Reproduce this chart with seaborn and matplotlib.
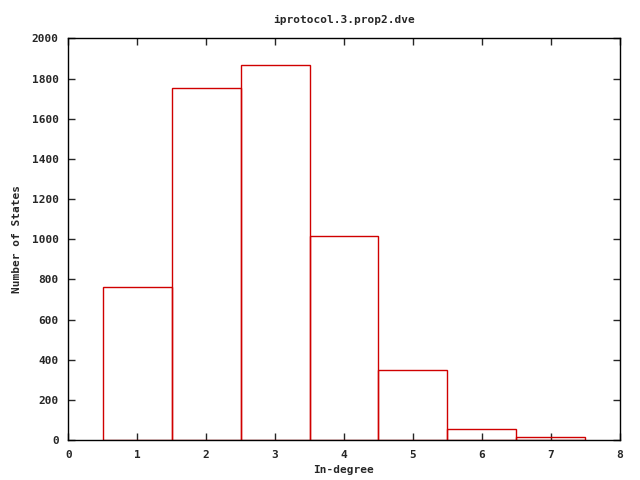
import matplotlib
matplotlib.use("Agg")
import matplotlib.pyplot as plt
import seaborn as sns

# in-degree histogram values
degrees = [1, 2, 3, 4, 5, 6, 7]
states = [761, 1755, 1866, 1015, 348, 54, 14]

sns.set_style("ticks")
plt.rcParams['font.family'] = ['DejaVu Sans Mono']
plt.rcParams['font.weight'] = 'bold'
plt.rcParams['font.size'] = 8

fig = plt.figure(figsize=(6.4, 4.8), dpi=100)
ax = fig.add_axes([0.107, 0.083, 0.861, 0.837])

sns.histplot(x=degrees, weights=states, discrete=True, fill=False,
             color="#d00000", linewidth=1.0, ax=ax)

ax.set_xlim(0, 8)
ax.set_ylim(0, 2000)
ax.set_xticks(range(0, 9))
ax.set_yticks(range(0, 2001, 200))
ax.tick_params(direction="in", top=True, right=True, length=5, width=1, labelsize=8)
ax.tick_params(axis="x", pad=7)
ax.tick_params(axis="y", pad=7)
for side in ax.spines.values():
    side.set_visible(True)
    side.set_linewidth(1)
    side.set_color("black")

ax.set_title("iprotocol.3.prop2.dve", fontsize=8, fontweight="bold", pad=11)
ax.set_xlabel("In-degree", fontsize=8, fontweight="bold", labelpad=4)
ax.set_ylabel("Number of States", fontsize=8, fontweight="bold", labelpad=7)

fig.savefig("out.png", dpi=100)
